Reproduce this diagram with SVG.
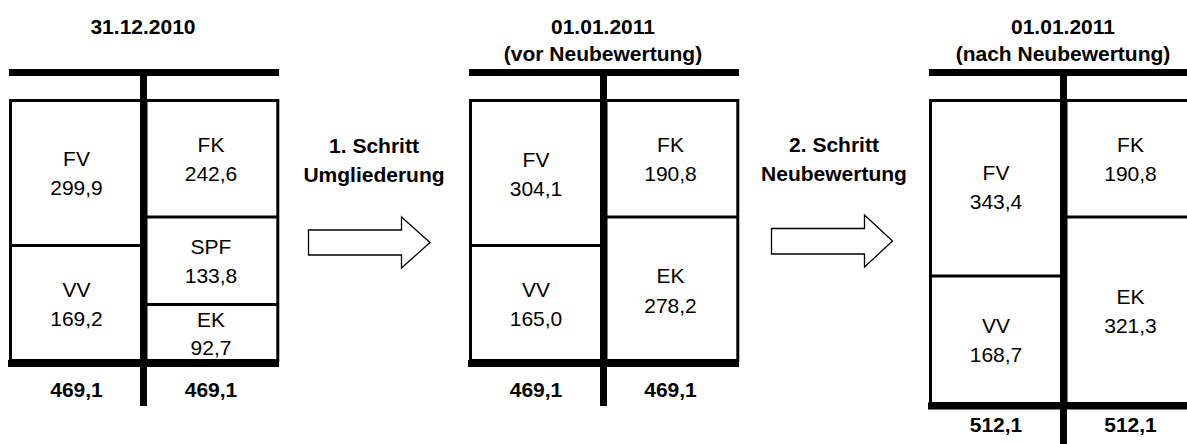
<svg xmlns="http://www.w3.org/2000/svg" width="1187" height="444" viewBox="0 0 1187 444">
<style>
.bar{fill:#000}
.box{fill:#fff;stroke:#000;stroke-width:3}
.div{stroke:#000;stroke-width:3}
.t{font-family:"Liberation Sans",Arial,sans-serif;font-size:21px;text-anchor:middle;fill:#000}
.b{font-weight:bold}
.arr{fill:#fff;stroke:#000;stroke-width:1.3;stroke-linejoin:miter}
</style>
<rect width="1187" height="444" fill="#fff"/>

<g id="panel1">
  <text class="t b" x="143" y="33.5">31.12.2010</text>
  <g id="p1-left">
    <rect class="box" x="10.5" y="100.5" width="131" height="260"/>
    <line class="div" x1="9" y1="245.5" x2="141" y2="245.5"/>
  </g>
  <g id="p1-right">
    <rect class="box" x="146" y="100.5" width="131.8" height="260"/>
    <line class="div" x1="146" y1="217" x2="279" y2="217"/>
    <line class="div" x1="146" y1="304.5" x2="279" y2="304.5"/>
  </g>
  <rect class="bar" x="9" y="69" width="270" height="7"/>
  <rect class="bar" x="140" y="69" width="7" height="337"/>
  <rect class="bar" x="8" y="360" width="271" height="7"/>
  <g id="p1-fv"><text class="t" x="76.5" y="166">FV</text><text class="t" x="76.5" y="195">299,9</text></g>
  <g id="p1-vv"><text class="t" x="76.5" y="297">VV</text><text class="t" x="76.5" y="326">169,2</text></g>
  <g id="p1-fk"><text class="t" x="211" y="152">FK</text><text class="t" x="211" y="181">242,6</text></g>
  <g id="p1-spf"><text class="t" x="211" y="254">SPF</text><text class="t" x="211" y="283">133,8</text></g>
  <g id="p1-ek"><text class="t" x="211" y="327">EK</text><text class="t" x="211" y="355">92,7</text></g>
  <g id="p1-sum"><text class="t b" x="76.5" y="397">469,1</text><text class="t b" x="211" y="397">469,1</text></g>
</g>

<g id="step1">
  <text class="t b" x="374" y="153">1. Schritt</text>
  <text class="t b" x="374" y="182">Umgliederung</text>
</g>

<g id="panel2">
  <text class="t b" x="603" y="34">01.01.2011</text>
  <text class="t b" x="603" y="61">(vor Neubewertung)</text>
  <g id="p2-left">
    <rect class="box" x="470.5" y="100.5" width="131" height="260"/>
    <line class="div" x1="469" y1="245.5" x2="601" y2="245.5"/>
  </g>
  <g id="p2-right">
    <rect class="box" x="606" y="100.5" width="131.8" height="260"/>
    <line class="div" x1="606" y1="217" x2="739" y2="217"/>
  </g>
  <rect class="bar" x="469" y="69" width="270" height="7"/>
  <rect class="bar" x="600" y="69" width="7" height="337"/>
  <rect class="bar" x="468" y="360" width="271" height="7"/>
  <g id="p2-fv"><text class="t" x="536" y="167">FV</text><text class="t" x="536" y="196">304,1</text></g>
  <g id="p2-vv"><text class="t" x="536" y="297">VV</text><text class="t" x="536" y="326">165,0</text></g>
  <g id="p2-fk"><text class="t" x="670.5" y="152">FK</text><text class="t" x="670.5" y="181">190,8</text></g>
  <g id="p2-ek"><text class="t" x="670.5" y="283">EK</text><text class="t" x="670.5" y="312.5">278,2</text></g>
  <g id="p2-sum"><text class="t b" x="536" y="397">469,1</text><text class="t b" x="670.5" y="397">469,1</text></g>
</g>

<g id="step2">
  <text class="t b" x="834" y="152">2. Schritt</text>
  <text class="t b" x="834" y="181">Neubewertung</text>
</g>

<g id="panel3">
  <text class="t b" x="1063" y="34">01.01.2011</text>
  <text class="t b" x="1063" y="61">(nach Neubewertung)</text>
  <g id="p3-left">
    <rect class="box" x="930.5" y="100.5" width="131" height="303"/>
    <line class="div" x1="929" y1="276" x2="1061" y2="276"/>
  </g>
  <g id="p3-right">
    <rect class="box" x="1066" y="100.5" width="140" height="303"/>
    <line class="div" x1="1066" y1="217" x2="1187" y2="217"/>
  </g>
  <rect class="bar" x="929" y="69" width="258" height="7"/>
  <rect class="bar" x="1060" y="69" width="7" height="375"/>
  <rect class="bar" x="928" y="402.5" width="259" height="7"/>
  <g id="p3-fv"><text class="t" x="996" y="180">FV</text><text class="t" x="996" y="209">343,4</text></g>
  <g id="p3-vv"><text class="t" x="996" y="333">VV</text><text class="t" x="996" y="362">168,7</text></g>
  <g id="p3-fk"><text class="t" x="1130.5" y="152">FK</text><text class="t" x="1130.5" y="181">190,8</text></g>
  <g id="p3-ek"><text class="t" x="1130.5" y="303.5">EK</text><text class="t" x="1130.5" y="333">321,3</text></g>
  <g id="p3-sum"><text class="t b" x="996" y="432">512,1</text><text class="t b" x="1130.5" y="432">512,1</text></g>
</g>

<g id="connectors">
  <polygon class="arr" points="308.5,230 401.5,230 401.5,217 430,242.5 401.5,268 401.5,255 308.5,255"/>
  <polygon class="arr" points="771.5,228.5 864.5,228.5 864.5,215 892.5,241 864.5,267 864.5,254 771.5,254"/>
</g>
</svg>
